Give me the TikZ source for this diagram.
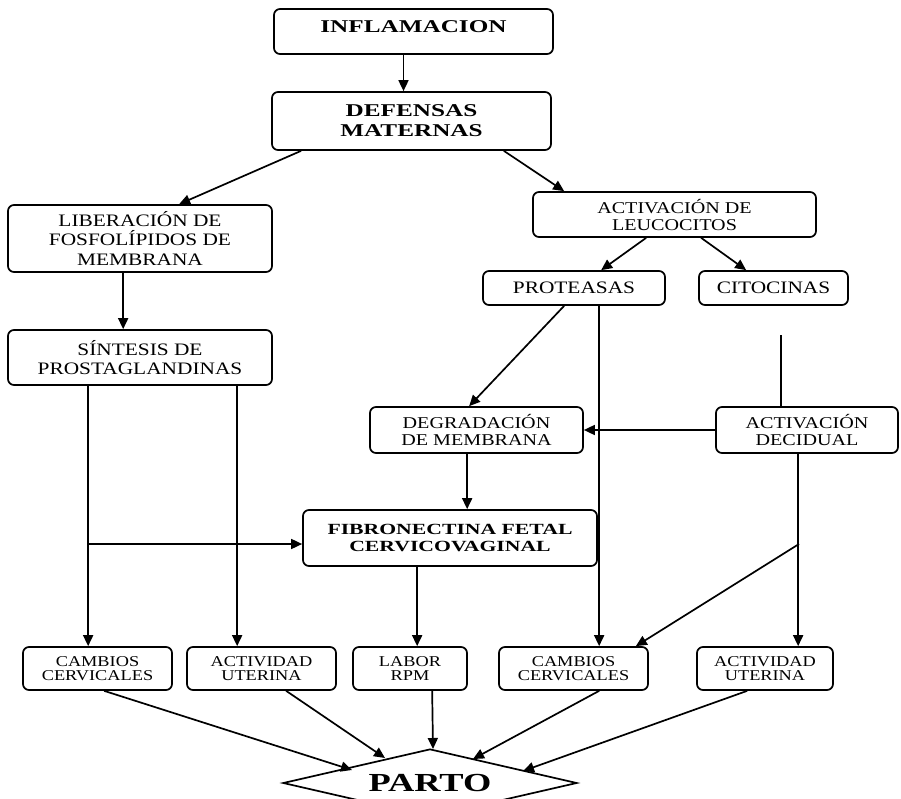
\documentclass[tikz,border=0pt]{standalone}
\usepackage{fontspec}
\setmainfont{Liberation Serif}
\newfontfamily\nrm[FakeStretch=1.22]{Liberation Serif}
\newfontfamily\brm[FakeStretch=1.4]{Liberation Serif}
\usetikzlibrary{arrows.meta,shapes.geometric}
\begin{document}
\begin{tikzpicture}[x=1pt,y=-1pt,
  box/.style={draw, line width=1.7pt, rounded corners=6pt, align=center, inner sep=0pt,
    font=\nrm\fontsize{17.5}{19.5}\selectfont},
  midbox/.style={box, font=\nrm\fontsize{16.5}{17}\selectfont},
  bbox/.style={box, font=\brm\bfseries\fontsize{18}{20}\selectfont},
  sbox/.style={box, font=\nrm\fontsize{15}{14}\selectfont, minimum height=43pt},
  arr/.style={line width=1.7pt, -{Triangle[length=11pt,width=10pt]}},
  ln/.style={line width=1.7pt}]
\useasboundingbox (0,0) rectangle (901,799);
\clip (0,0) rectangle (901,799);

% boxes
\node[bbox, minimum width=279pt, minimum height=45pt, text depth=10pt] (infl) at (413.5,31.5) {INFLAMACION};
\node[bbox, minimum width=279pt, minimum height=58pt] (def) at (411.5,121) {DEFENSAS\\MATERNAS};
\node[box, minimum width=264pt, minimum height=67pt] (lib) at (140,238.5) {LIBERACIÓN DE\\FOSFOLÍPIDOS DE\\MEMBRANA};
\node[box, minimum width=264pt, minimum height=55pt] (sin) at (140,357.5) {SÍNTESIS DE\\PROSTAGLANDINAS};
\node[midbox, minimum width=283pt, minimum height=45pt] (actl) at (674.5,214.5) {ACTIVACIÓN DE\\LEUCOCITOS};
\node[box, minimum width=182pt, minimum height=34pt] (prot) at (574,288) {PROTEASAS};
\node[box, minimum width=149pt, minimum height=34pt] (cito) at (773.5,288) {CITOCINAS};
\node[midbox, minimum width=213pt, minimum height=46pt] (degr) at (476.5,430) {DEGRADACIÓN\\DE MEMBRANA};
\node[midbox, minimum width=182pt, minimum height=46pt] (actd) at (807,430) {ACTIVACIÓN\\DECIDUAL};
\node[bbox, font=\brm\bfseries\fontsize{15.5}{17.5}\selectfont, minimum width=294pt, minimum height=56pt] (fibr) at (450,538) {FIBRONECTINA FETAL\\CERVICOVAGINAL};
\node[sbox, minimum width=149pt] (cc1) at (97.5,668.5) {CAMBIOS\\CERVICALES};
\node[sbox, minimum width=149pt] (au1) at (261.5,668.5) {ACTIVIDAD\\UTERINA};
\node[sbox, minimum width=114pt] (lab) at (410,668.5) {LABOR\\RPM};
\node[sbox, minimum width=149pt] (cc2) at (573.5,668.5) {CAMBIOS\\CERVICALES};
\node[sbox, minimum width=136pt] (au2) at (765,668.5) {ACTIVIDAD\\UTERINA};
\node[draw, diamond, line width=1.7pt, minimum width=294pt, minimum height=68pt, aspect=4.32, inner sep=0pt,
  font=\brm\bfseries\fontsize{26}{28}\selectfont] (parto) at (430,783) {PARTO};

% junctions
\coordinate (j1) at (89,544);
\coordinate (c1) at (781,335);
\coordinate (j2) at (799,544);

% connectors
\draw[arr] ([xshift=-10pt]infl.south) -- ([xshift=-10pt]infl.south |- def.north);
\draw[arr] ([xshift=30pt]def.south west) -- ([xshift=172pt]lib.north west);
\draw[arr] ([xshift=-48pt]def.south east) -- ([xshift=32pt]actl.north west);
\draw[arr] ([xshift=116pt]lib.south west) -- ([xshift=116pt]sin.north west);
\draw[arr] ([xshift=81pt]sin.south west) -- ([xshift=66pt]cc1.north west);
\draw[arr] ([xshift=230pt]sin.south west) -- ([xshift=51pt]au1.north west);
\draw[arr] (j1) -- (j1 -| fibr.west);
\draw[arr] ([xshift=114pt]actl.south west) -- ([xshift=119pt]prot.north west);
\draw[arr] ([xshift=169pt]actl.south west) -- ([xshift=48pt]cito.north west);
\draw[arr] ([xshift=82pt]prot.south west) -- ([xshift=100pt]degr.north west);
\draw[arr] ([xshift=117pt]prot.south west) -- ([xshift=101pt]cc2.north west);
\draw[ln] (c1) -- (c1 |- actd.north);
\draw[arr] (actd.west) -- (degr.east);
\draw[arr] ([xshift=98pt]degr.south west) -- ([xshift=165pt]fibr.north west);
\draw[arr] ([xshift=115pt]fibr.south west) -- ([xshift=65pt]lab.north west);
\draw[arr] ([xshift=83pt]actd.south west) -- ([xshift=102pt]au2.north west);
\draw[arr] (j2) -- ([xshift=-13pt]cc2.north east);

% to PARTO
\draw[arr] ([xshift=82pt]cc1.south west) -- ([shift={(-78,-13)}]parto.center);
\draw[arr] ([xshift=100pt]au1.south west) -- ([shift={(-45,-25)}]parto.center);
\draw[arr] ([xshift=80pt]lab.south west) -- ([shift={(3,-34)}]parto.center);
\draw[arr] ([xshift=101pt]cc2.south west) -- ([shift={(43,-24)}]parto.center);
\draw[arr] ([xshift=51pt]au2.south west) -- ([shift={(93,-12)}]parto.center);
\end{tikzpicture}
\end{document}
